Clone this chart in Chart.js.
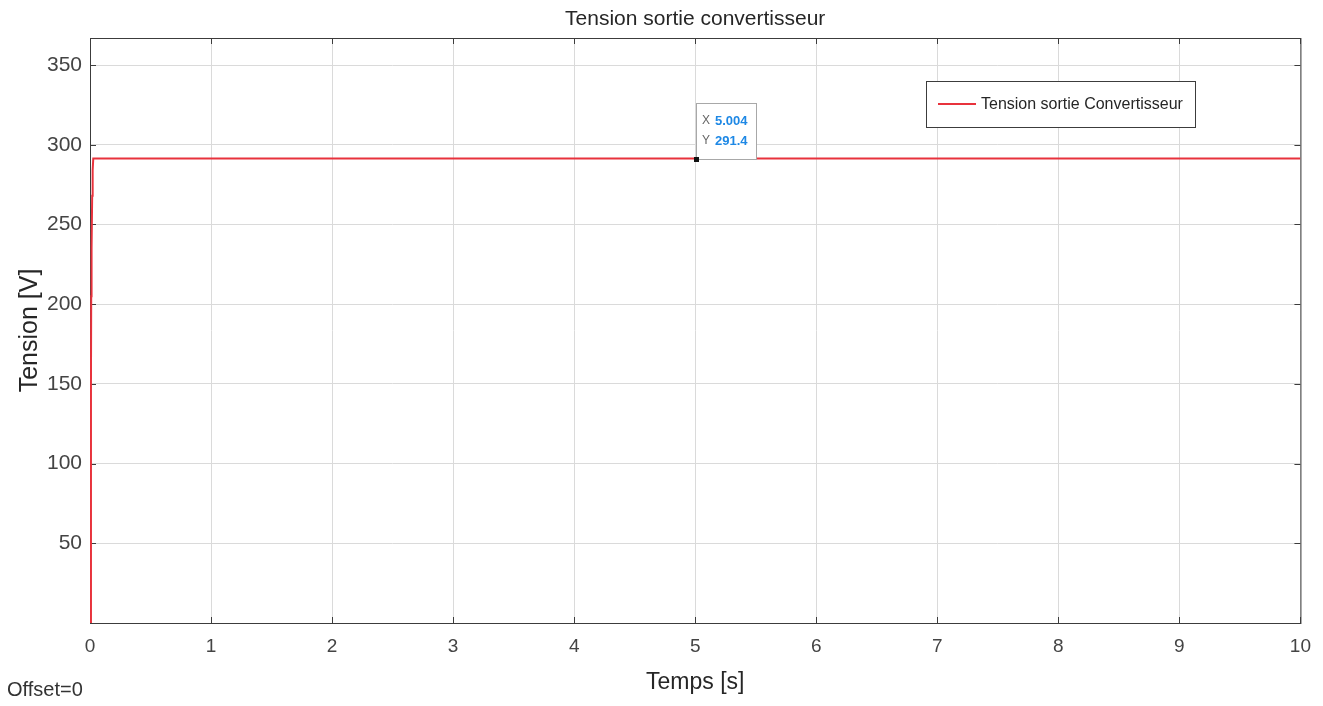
<!DOCTYPE html>
<html>
<head>
<meta charset="utf-8">
<script src="https://cdn.jsdelivr.net/npm/chart.js@4/dist/chart.umd.min.js"></script>
<style>
  html, body { margin: 0; padding: 0; background: #fff; }
  canvas { display: block; }
</style>
</head>
<body>
<canvas id="tensionChart" width="1323" height="706"></canvas>
<script>
// converter output voltage, simulated over 10 s
const timeS = [0.006, 0.008, 0.010, 0.013, 0.018, 0.022, 0.027, 1, 2, 3, 4, 5.004, 6, 7, 8, 9, 10];
const tensionV = [0, 150, 205, 235, 268, 284, 291.4, 291.4, 291.4, 291.4, 291.4, 291.4, 291.4, 291.4, 291.4, 291.4, 291.4];
const xTicks = [0, 1, 2, 3, 4, 5, 6, 7, 8, 9, 10];
const yTicks = [50, 100, 150, 200, 250, 300, 350];
const dataTip = { x: 5.004, y: 291.4 };

const FONT = '"Liberation Sans", Arial, sans-serif';
const RED = '#e8323c';

// plot box and inward ticks go under the trace; titles, legend and data tip on top
const framePlugin = {
  id: 'frame',
  beforeDatasetsDraw(chart) {
    const { ctx, chartArea: a, scales } = chart;
    ctx.save();
    ctx.strokeStyle = '#3c3c3c';
    ctx.lineWidth = 1;
    ctx.strokeRect(a.left + 0.5, a.top + 0.5, a.right - a.left, a.bottom - a.top);

    ctx.beginPath();
    xTicks.forEach(v => {
      const px = Math.round(scales.x.getPixelForValue(v)) + 0.5;
      ctx.moveTo(px, a.bottom); ctx.lineTo(px, a.bottom - 6);
      ctx.moveTo(px, a.top); ctx.lineTo(px, a.top + 6);
    });
    yTicks.forEach(v => {
      const py = Math.round(scales.y.getPixelForValue(v)) + 0.5;
      ctx.moveTo(a.left, py); ctx.lineTo(a.left + 6, py);
      ctx.moveTo(a.right, py); ctx.lineTo(a.right - 6, py);
    });
    ctx.stroke();
    ctx.restore();
  },
  afterDraw(chart) {
    const { ctx, chartArea: a, scales } = chart;
    ctx.save();
    ctx.fillStyle = '#262626';
    ctx.font = '21px ' + FONT;
    ctx.textAlign = 'center';
    ctx.textBaseline = 'middle';
    ctx.fillText('Tension sortie convertisseur', (a.left + a.right) / 2, 19);

    ctx.textAlign = 'left';
    ctx.font = '20px ' + FONT;
    ctx.fillStyle = '#333';
    ctx.fillText('Offset=0', 7, 690);

    // data tip
    const tx = Math.round(scales.x.getPixelForValue(dataTip.x));
    const ty = Math.round(scales.y.getPixelForValue(dataTip.y));
    const bw = 60, bh = 56;
    ctx.fillStyle = '#ffffff';
    ctx.fillRect(tx, ty - bh, bw, bh);
    ctx.strokeStyle = '#a8a8a8';
    ctx.lineWidth = 1;
    ctx.strokeRect(tx + 0.5, ty - bh + 0.5, bw, bh);
    ctx.font = '12px ' + FONT;
    ctx.fillStyle = '#666';
    ctx.fillText('X', tx + 6, ty - 38);
    ctx.fillText('Y', tx + 6, ty - 18);
    ctx.fillStyle = '#1e88e5';
    ctx.font = 'bold 13px ' + FONT;
    ctx.fillText(dataTip.x.toFixed(3), tx + 19, ty - 38);
    ctx.fillText(dataTip.y.toFixed(1), tx + 19, ty - 18);
    ctx.fillStyle = '#111';
    ctx.fillRect(tx - 2, ty - 2, 5, 5);

    // legend
    const lx = 926, ly = 81, lw = 269, lh = 46;
    ctx.fillStyle = '#ffffff';
    ctx.fillRect(lx, ly, lw, lh);
    ctx.strokeStyle = '#3c3c3c';
    ctx.strokeRect(lx + 0.5, ly + 0.5, lw, lh);
    ctx.strokeStyle = RED;
    ctx.lineWidth = 2;
    ctx.beginPath();
    ctx.moveTo(lx + 12, ly + 23); ctx.lineTo(lx + 50, ly + 23);
    ctx.stroke();
    ctx.fillStyle = '#262626';
    ctx.font = '16px ' + FONT;
    ctx.fillText('Tension sortie Convertisseur', lx + 55, ly + 24);
    ctx.restore();
  }
};

new Chart(document.getElementById('tensionChart'), {
  type: 'line',
  data: {
    datasets: [{
      label: 'Tension sortie Convertisseur',
      data: timeS.map((t, i) => ({ x: t, y: tensionV[i] })),
      borderColor: RED,
      borderWidth: 2,
      pointRadius: 0,
      tension: 0,
      fill: false
    }]
  },
  options: {
    responsive: false,
    animation: false,
    layout: { padding: { top: 38, right: 21, left: 0, bottom: 0 } },
    plugins: { legend: { display: false }, tooltip: { enabled: false }, title: { display: false } },
    scales: {
      x: {
        type: 'linear',
        min: 0,
        max: 10,
        afterFit: s => { s.height = 83; },
        grid: { color: '#dadada', drawTicks: false },
        border: { display: false },
        ticks: {
          stepSize: 1,
          padding: 12,
          color: '#444',
          font: { family: FONT, size: 19 }
        },
        title: {
          display: true,
          text: 'Temps [s]',
          color: '#262626',
          font: { family: FONT, size: 23 },
          padding: { top: 0, bottom: 10 }
        }
      },
      y: {
        min: 0,
        max: 367,
        afterFit: s => { s.width = 90; },
        grid: { color: '#dadada', drawTicks: false },
        border: { display: false },
        ticks: {
          stepSize: 50,
          includeBounds: false,
          padding: 8,
          color: '#444',
          font: { family: FONT, size: 21 },
          callback: v => (v === 0 ? '' : v)
        },
        title: {
          display: true,
          text: 'Tension [V]',
          color: '#262626',
          font: { family: FONT, size: 25 },
          padding: { top: 15, bottom: 0 }
        }
      }
    }
  },
  plugins: [framePlugin]
});
</script>
</body>
</html>
